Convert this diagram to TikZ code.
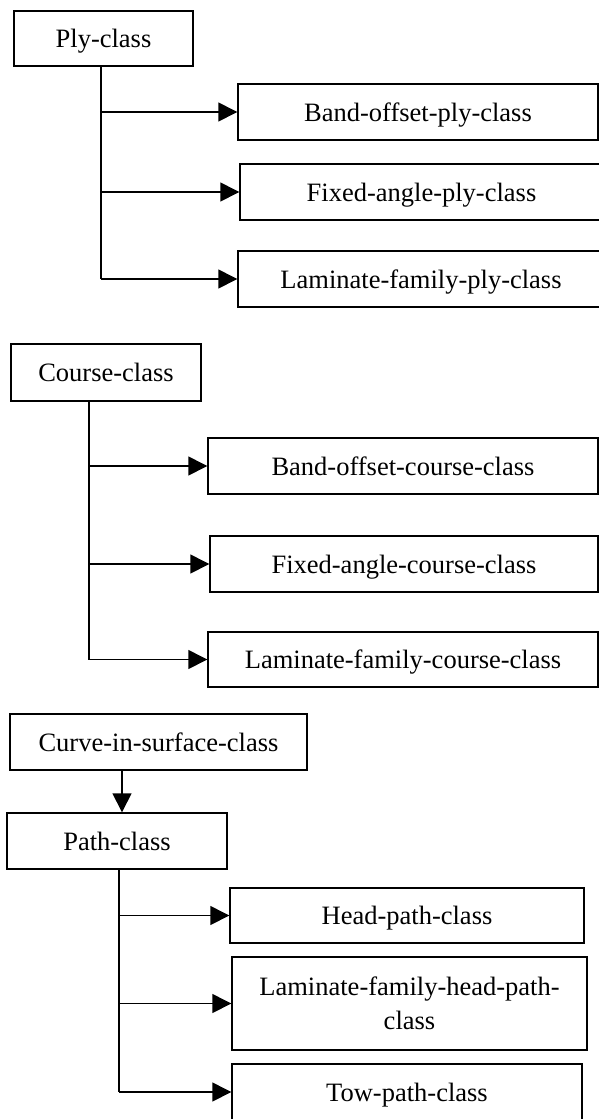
\documentclass[tikz,border=0pt]{standalone}
\usepackage{fontspec}
\setmainfont{Liberation Serif}
\usetikzlibrary{arrows.meta}
\tikzset{
  box/.style={draw, line width=1.4pt, inner sep=0pt, font=\fontsize{26.5}{34}\selectfont, text height=18pt, text depth=0pt},
  box2/.style={draw, line width=1.4pt, inner sep=0pt, font=\fontsize{26.5}{34}\selectfont, align=center},
  arr/.style={line width=1.4pt, -{Triangle[length=19pt,width=19pt]}},
  ln/.style={line width=1.4pt}
}
\begin{document}
\begin{tikzpicture}[x=1pt,y=-1pt]
\useasboundingbox (0,0) rectangle (599,1119);
\clip (0,0) rectangle (599,1119);
\fill[white] (0,0) rectangle (599,1119);
% group 1
\node[box, minimum width=179pt, minimum height=55pt] (ply) at (103.5,38.5) {Ply-class};
\node[box, minimum width=360pt, minimum height=56pt] (bop) at (418,112) {Band-offset-ply-class};
\node[box, minimum width=363pt, minimum height=56pt] (fap) at (421.5,192) {Fixed-angle-ply-class};
\node[box, minimum width=366pt, minimum height=56pt] (lfp) at (421,279) {Laminate-family-ply-class};
\coordinate (t1) at (101,0);
\draw[ln] (ply.south -| t1) -- (t1 |- lfp.west);
\draw[arr] (t1 |- bop.west) -- (bop.west);
\draw[arr] (t1 |- fap.west) -- (fap.west);
\draw[arr] (t1 |- lfp.west) -- (lfp.west);
% group 2
\node[box, minimum width=190pt, minimum height=57pt] (course) at (106,372.5) {Course-class};
\node[box, minimum width=390pt, minimum height=56pt] (boc) at (403,466) {Band-offset-course-class};
\node[box, minimum width=388pt, minimum height=56pt] (fac) at (404,564) {Fixed-angle-course-class};
\node[box, minimum width=390pt, minimum height=55pt] (lfc) at (403,659.5) {Laminate-family-course-class};
\coordinate (t2) at (89,0);
\draw[ln] (course.south -| t2) -- (t2 |- lfc.west);
\draw[arr] (t2 |- boc.west) -- (boc.west);
\draw[arr] (t2 |- fac.west) -- (fac.west);
\draw[arr] (t2 |- lfc.west) -- (lfc.west);
% group 3
\node[box, minimum width=297pt, minimum height=56pt] (curve) at (158.5,742) {Curve-in-surface-class};
\node[box, minimum width=220pt, minimum height=56pt] (path) at (117,841) {Path-class};
\coordinate (t0) at (122,0);
\draw[arr] (curve.south -| t0) -- (path.north -| t0);
\node[box, minimum width=354pt, minimum height=55pt] (head) at (407,915.5) {Head-path-class};
\node[box2, minimum width=355pt, minimum height=93pt] (lfhp) at (409.5,1003.5) {Laminate-family-head-path-\\class};
\node[box, minimum width=350pt, minimum height=56pt] (tow) at (407,1092) {Tow-path-class};
\coordinate (t3) at (119,0);
\draw[ln] (path.south -| t3) -- (t3 |- tow.west);
\draw[arr] (t3 |- head.west) -- (head.west);
\draw[arr] (t3 |- lfhp.west) -- (lfhp.west);
\draw[arr] (t3 |- tow.west) -- (tow.west);
\end{tikzpicture}
\end{document}
